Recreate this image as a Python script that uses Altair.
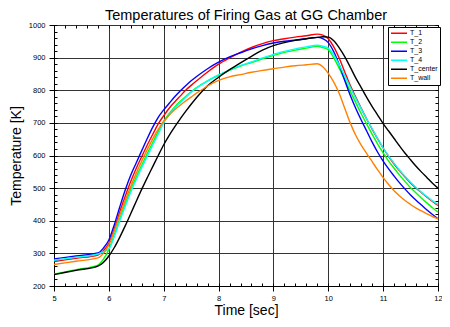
import altair as alt
import pandas as pd

FONT = "Liberation Sans"

times = [5.0, 5.4, 5.8, 5.9,
         6.0, 6.1, 6.2, 6.3, 6.4, 6.5, 6.6, 6.7, 6.8, 6.9, 7.0, 7.1, 7.2, 7.3, 7.4, 7.5, 7.6,
         7.8, 8.0, 8.2, 8.4, 8.6, 8.8, 9.0, 9.2, 9.4, 9.6, 9.8,
         9.9,
         10.0, 10.1, 10.2, 10.3, 10.4, 10.5, 10.6, 10.7, 10.8, 10.9, 11.0, 11.1, 11.2, 11.3, 11.4,
         11.5, 11.6, 11.7, 11.8, 11.9, 12.0]

T_1 = [275, 285, 295, 308,
       331, 375, 428, 476, 521, 561, 597, 632, 665, 697, 722, 745, 764, 782, 800, 815, 829,
       856, 880, 899, 916, 931, 943, 952, 958, 963, 967, 972,
       969,
       958, 933, 898, 856, 815, 779, 745, 712, 681, 651, 623, 597, 574, 553, 534,
       516, 500, 486, 472, 459, 447]

T_2 = [236, 250, 264, 282,
       312, 357, 406, 453, 496, 535, 571, 606, 640, 673, 705, 729, 749, 766, 781, 795, 808,
       829, 846, 861, 874, 885, 896, 907, 916, 923, 929, 935,
       931,
       924, 899, 867, 832, 797, 762, 728, 696, 665, 635, 608, 583, 561, 540, 520,
       501, 485, 469, 454, 440, 426]

T_3 = [283, 292, 301, 316,
       341, 388, 443, 495, 540, 578, 615, 652, 687, 717, 740, 760, 780, 798, 814, 829, 842,
       866, 886, 902, 915, 927, 937, 945, 950, 954, 958, 962,
       958,
       946, 918, 878, 830, 785, 745, 709, 675, 641, 610, 583, 559, 537, 516, 497,
       479, 463, 448, 433, 419, 406]

T_4 = [279, 288, 298, 305,
       314, 352, 400, 445, 488, 527, 563, 598, 632, 666, 700, 725, 745, 762, 778, 794, 807,
       829, 847, 862, 876, 887, 899, 910, 919, 927, 933, 938,
       935,
       929, 908, 878, 844, 809, 775, 743, 712, 682, 652, 623, 598, 576, 555, 536,
       518, 502, 487, 474, 461, 450]

T_center = [235, 248, 261, 272,
            292, 318, 350, 385, 422, 460, 497, 532, 566, 600, 633, 662, 688, 712, 735, 757, 778,
            814, 840, 863, 884, 904, 923, 937, 946, 953, 958, 962,
            964,
            963, 952, 930, 903, 871, 838, 808, 778, 750, 724, 698, 675, 652, 629, 607,
            587, 567, 549, 532, 515, 500]

T_wall = [266, 276, 286, 300,
          326, 370, 418, 463, 506, 546, 583, 618, 651, 680, 705, 724, 740, 754, 767, 779, 791,
          813, 830, 841, 848, 855, 861, 866, 871, 875, 878, 881,
          872,
          852, 825, 790, 745, 700, 662, 632, 606, 581, 556, 532, 511, 492, 476, 462,
          450, 439, 430, 421, 413, 406]

names = ["T_1", "T_2", "T_3", "T_4", "T_center", "T_wall"]
colors = ["#ff0000", "#00ff00", "#0000ff", "#00ffff", "#000000", "#ff8000"]

x_major = [5, 6, 7, 8, 9, 10, 11, 12]
y_major = [200, 300, 400, 500, 600, 700, 800, 900, 1000]
x_minor = [5.0, 5.2, 5.4, 5.6, 5.8, 6.0, 6.2, 6.4, 6.6, 6.8, 7.0, 7.2, 7.4, 7.6, 7.8,
           8.0, 8.2, 8.4, 8.6, 8.8, 9.0, 9.2, 9.4, 9.6, 9.8, 10.0, 10.2, 10.4, 10.6,
           10.8, 11.0, 11.2, 11.4, 11.6, 11.8, 12.0]
y_minor = [200, 220, 240, 260, 280, 300, 320, 340, 360, 380, 400, 420, 440, 460, 480,
           500, 520, 540, 560, 580, 600, 620, 640, 660, 680, 700, 720, 740, 760, 780,
           800, 820, 840, 860, 880, 900, 920, 940, 960, 980, 1000]

rows = []
for name, vals in zip(names, [T_1, T_2, T_3, T_4, T_center, T_wall]):
    for t, v in zip(times, vals):
        rows.append({"time": t, "temp": v, "series": name})
df = pd.DataFrame(rows)

xs = alt.Scale(domain=[5, 12], nice=False, zero=False)
ys = alt.Scale(domain=[200, 1000], nice=False, zero=False)

lines = alt.Chart(df).mark_line(strokeWidth=1.4, interpolate="monotone").encode(
    x=alt.X("time:Q", scale=xs, axis=alt.Axis(
        values=x_major, format="d", title="Time [sec]", grid=True, gridColor="#333333",
        gridWidth=1, tickSize=5, tickColor="black", domainColor="black",
        labelFontSize=7.5, labelColor="black", labelPadding=3, labelFont=FONT,
        titleFont=FONT, titleFontSize=14, titleFontWeight="normal", titleColor="black",
        titlePadding=2, labelFlush=False)),
    y=alt.Y("temp:Q", scale=ys, axis=alt.Axis(
        values=y_major, format="d", title="Temperature [K]", grid=True, gridColor="#333333",
        gridWidth=1, tickSize=5, tickColor="black", domainColor="black",
        labelFontSize=7.5, labelColor="black", labelPadding=4, labelFont=FONT,
        titleFont=FONT, titleFontSize=14, titleFontWeight="normal", titleColor="black",
        titlePadding=5, labelFlush=False)),
    color=alt.Color("series:N", scale=alt.Scale(domain=names, range=colors),
                    legend=alt.Legend(title=None, orient="none", legendX=334, legendY=2)),
)


def minor_layer(xorient, yorient):
    return alt.Chart(df).mark_line(opacity=0).encode(
        x=alt.X("time:Q", scale=xs, axis=alt.Axis(
            orient=xorient, values=x_minor, labels=False, title=None, grid=False,
            domain=False, tickSize=3, offset=-3, tickColor="black")),
        y=alt.Y("temp:Q", scale=ys, axis=alt.Axis(
            orient=yorient, values=y_minor, labels=False, title=None, grid=False,
            domain=False, tickSize=3, offset=-3, tickColor="black")),
    )


chart = alt.layer(
    lines, minor_layer("top", "right"), minor_layer("bottom", "left")
).resolve_axis(
    x="independent", y="independent"
).properties(
    width=384, height=261,
    padding={"left": 46, "top": 17, "right": 4, "bottom": 32},
    autosize=alt.AutoSizeParams(type="none"),
    title=alt.Title("Temperatures of Firing Gas at GG Chamber", font=FONT, fontSize=14.5,
                    fontWeight="normal", color="black", anchor="middle",
                    offset=-2, frame="group"),
).configure_view(
    stroke="black", strokeWidth=1
).configure_legend(
    fillColor="white", strokeColor="black", padding=2, labelFont=FONT, labelFontSize=7,
    labelColor="black", symbolType="stroke", symbolSize=256, symbolStrokeWidth=1.5,
    labelOffset=2, rowPadding=0, clipHeight=8.3
)

chart.save("out.html", embed_options={"renderer": "svg", "actions": False})
